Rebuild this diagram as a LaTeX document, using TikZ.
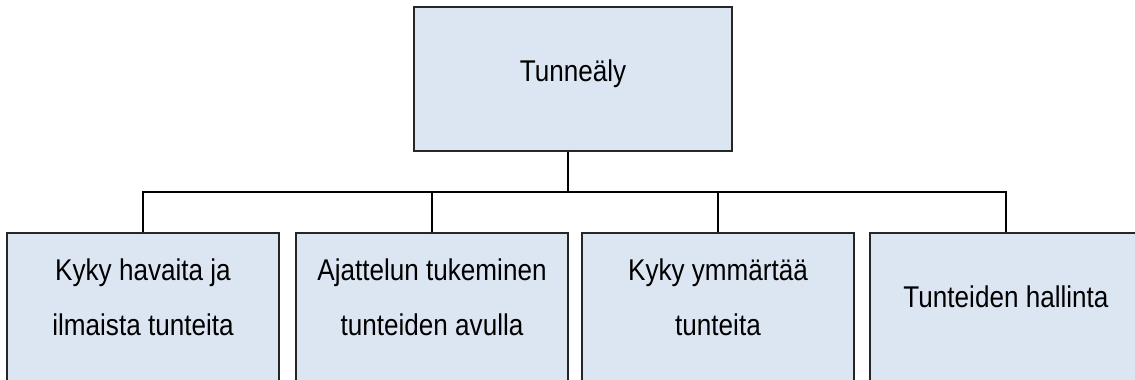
\documentclass[tikz,border=0pt]{standalone}
\usepackage{fontspec}
\setmainfont{Liberation Sans}[FakeStretch=0.87]
\usetikzlibrary{positioning}

\definecolor{boxfill}{HTML}{DCE6F2}
\tikzset{
  box/.style={draw=black!85, line width=1.6pt, fill=boxfill, inner sep=0pt,
    minimum width=318pt, minimum height=144pt},
  subbox/.style={box, minimum width=272pt, minimum height=170pt, anchor=north},
  lbl/.style={inner sep=0pt, align=center, font=\fontsize{30}{55}\selectfont},
  link/.style={line width=1.6pt, black}
}

\begin{document}
\begin{tikzpicture}[x=1pt, y=-1pt]
  %%%%% frame %%%%%
  \clip (0,0) rectangle (1135,380);
  \fill[white] (0,0) rectangle (1135,380);

  %%%%% top %%%%%
  \node[box] (paa) at (573,79) {};
  \node[lbl] (paateksti) at (573,74) {Tunneäly};

  %%%%% branches %%%%%
  \node[subbox] (k1) at (143,232) {};
  \node[subbox] (k2) at (432,232) {};
  \node[subbox] (k3) at (718,232) {};
  \node[subbox] (k4) at (1006,232) {};

  \node[lbl] (t1) at (143,297) {Kyky havaita ja\\ilmaista tunteita};
  \node[lbl] (t2) at (432,297) {Ajattelun tukeminen\\tunteiden avulla};
  \node[lbl] (t3) at (718,297) {Kyky ymmärtää\\tunteita};
  \node[lbl] (t4) at (1006,297) {Tunteiden hallinta};

  %%%%% connectors %%%%%
  \coordinate (hub) at (568,192);
  \draw[link] (hub |- paa.south) -- (hub);
  \draw[link] (k1.north) -- (k1.north |- hub) -- (k4.north |- hub) -- (k4.north);
  \draw[link] (k2.north) -- (k2.north |- hub);
  \draw[link] (k3.north) -- (k3.north |- hub);
\end{tikzpicture}
\end{document}
